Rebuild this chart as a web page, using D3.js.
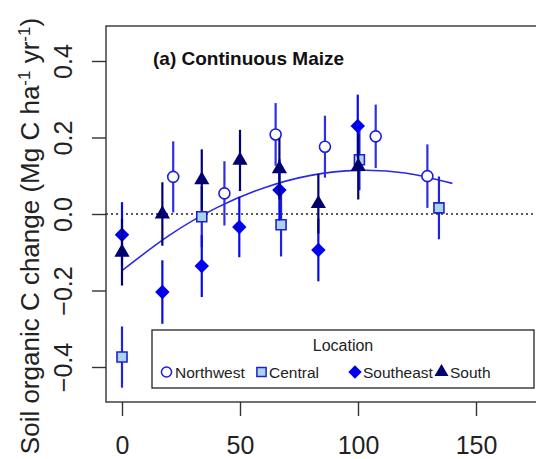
<!DOCTYPE html>
<html>
<head>
<meta charset="utf-8">
<script src="https://cdn.jsdelivr.net/npm/d3@7"></script>
<style>
  body { margin: 0; background: #fff; }
  text { font-family: "Liberation Sans", Arial, sans-serif; }
</style>
</head>
<body>
<div id="chart"></div>
<script>
const nwX = [21.7, 43.4, 65.1, 86, 107.5, 129.4];
const nwY = [0.097, 0.054, 0.208, 0.176, 0.203, 0.099];
const nwSE = [0.093, 0.084, 0.082, 0.081, 0.083, 0.083];

const centralX = [0, 33.8, 67.4, 100.6, 134.3];
const centralY = [-0.374, -0.007, -0.028, 0.142, 0.016];
const centralSE = [0.080, 0.080, 0.083, 0.080, 0.082];

const southeastX = [0, 17.1, 33.8, 49.7, 66.7, 83.2, 99.9];
const southeastY = [-0.054, -0.204, -0.136, -0.034, 0.063, -0.094, 0.230];
const southeastSE = [0.085, 0.083, 0.081, 0.079, 0.080, 0.082, 0.082];

const southX = [0, 17.1, 33.8, 50, 66.7, 83.2, 100.1];
const southY = [-0.100, 0.000, 0.089, 0.140, 0.118, 0.027, 0.124];
const southSE = [0.087, 0.083, 0.080, 0.080, 0.080, 0.078, 0.086];

// fitted curve, read at a few x positions
const fitX = [0, 20, 40, 60, 80, 100, 120, 140];
const fitY = [-0.148, -0.056, 0.016, 0.068, 0.101, 0.114, 0.107, 0.080];

const xTicks = [0, 50, 100, 150];
const yTicks = [-0.4, -0.2, 0.0, 0.2, 0.4];
const legendNames = ["Northwest", "Central", "Southeast", "South"];

const W = 536, H = 459;
const box = { left: 106, top: 26, bottom: 402, right: 540 };

const svg = d3.select("#chart").append("svg")
  .attr("width", W).attr("height", H);

const x = d3.scaleLinear().domain([0, 150]).range([122, 476]);
const y = d3.scaleLinear().domain([-0.4, 0.4]).range([367, 61]);

// zero reference line
svg.append("line")
  .attr("x1", box.left).attr("x2", box.right)
  .attr("y1", y(0)).attr("y2", y(0))
  .attr("stroke", "#222").attr("stroke-width", 1.3)
  .attr("stroke-dasharray", "2,3");

// fitted curve
svg.append("path")
  .datum(fitX.map((d, i) => [d, fitY[i]]))
  .attr("fill", "none")
  .attr("stroke", "#2a2ae6")
  .attr("stroke-width", 1.6)
  .attr("d", d3.line().x(d => x(d[0])).y(d => y(d[1])).curve(d3.curveNatural));

const series = [
  { xs: nwX, ys: nwY, se: nwSE, bar: "#2f2fe0", sym: d3.symbolCircle, size: 95, rot: 0, fill: "#fff", stroke: "#1c1ce0" },
  { xs: centralX, ys: centralY, se: centralSE, bar: "#2222dd", sym: d3.symbolSquare, size: 100, rot: 0, fill: "#a9d5e8", stroke: "#2020d0" },
  { xs: southeastX, ys: southeastY, se: southeastSE, bar: "#0a0ae8", sym: d3.symbolSquare, size: 105, rot: 45, fill: "#0000ee", stroke: "none" },
  { xs: southX, ys: southY, se: southSE, bar: "#00007a", sym: d3.symbolTriangle, size: 100, rot: 0, fill: "#00006e", stroke: "none" }
];

series.forEach(s => {
  const g = svg.append("g");
  const pts = s.xs.map((d, i) => ({ x: d, y: s.ys[i], se: s.se[i] }));
  g.selectAll("line")
    .data(pts)
    .enter().append("line")
    .attr("x1", d => x(d.x)).attr("x2", d => x(d.x))
    .attr("y1", d => y(d.y + d.se)).attr("y2", d => y(d.y - d.se))
    .attr("stroke", s.bar).attr("stroke-width", 2.2);
  g.selectAll("path")
    .data(pts)
    .enter().append("path")
    .attr("transform", d => `translate(${x(d.x)},${y(d.y)}) rotate(${s.rot})`)
    .attr("d", d3.symbol(s.sym, s.size))
    .attr("fill", s.fill)
    .attr("stroke", s.stroke)
    .attr("stroke-width", 1.6);
});

// plot frame
svg.append("rect")
  .attr("x", box.left).attr("y", box.top)
  .attr("width", box.right - box.left).attr("height", box.bottom - box.top)
  .attr("fill", "none").attr("stroke", "#333").attr("stroke-width", 1.4);

// axes
const gx = svg.append("g")
  .attr("transform", `translate(0,${box.bottom})`)
  .call(d3.axisBottom(x).tickValues(xTicks).tickSize(14).tickPadding(20).tickFormat(d3.format("d")));
gx.select(".domain").remove();
gx.selectAll("line").attr("stroke", "#333").attr("stroke-width", 1.4);
gx.selectAll("text").attr("font-size", 25).attr("fill", "#222")
  .attr("font-family", "'Liberation Sans', Arial, sans-serif");

const gy = svg.append("g")
  .attr("transform", `translate(${box.left},0)`)
  .call(d3.axisLeft(y).tickValues(yTicks).tickSize(14).tickFormat(d3.format(".1f")));
gy.select(".domain").remove();
gy.selectAll("line").attr("stroke", "#333").attr("stroke-width", 1.4);
gy.selectAll("text").remove();
gy.selectAll(".tick").append("text")
  .attr("transform", "translate(-34,0) rotate(-90)")
  .attr("text-anchor", "middle")
  .attr("font-size", 25).attr("fill", "#222")
  .text(d => d3.format(".1f")(d));

// y axis title
const yt = svg.append("text")
  .attr("transform", "translate(39,236) rotate(-90)")
  .attr("text-anchor", "middle")
  .attr("font-size", 26).attr("fill", "#222");
yt.append("tspan").text("Soil organic C change (Mg C ha");
yt.append("tspan").attr("dy", -9).attr("font-size", 17).text("-1");
yt.append("tspan").attr("dy", 9).text(" yr");
yt.append("tspan").attr("dy", -9).attr("font-size", 17).text("-1");
yt.append("tspan").attr("dy", 9).text(")");

// panel title
svg.append("text")
  .attr("x", 153).attr("y", 65)
  .attr("font-size", 19).attr("font-weight", "bold").attr("fill", "#111")
  .text("(a) Continuous Maize");

// legend
const leg = svg.append("g");
leg.append("rect")
  .attr("x", 152).attr("y", 330).attr("width", 382).attr("height", 58)
  .attr("fill", "#fff").attr("stroke", "#222").attr("stroke-width", 1.3);
leg.append("text")
  .attr("x", 343).attr("y", 351).attr("text-anchor", "middle")
  .attr("font-size", 16).attr("fill", "#222").text("Location");

const legSymX = [166.5, 261.5, 355, 441.5];
const legTextX = [175, 269, 363, 450];
series.forEach((s, i) => {
  leg.append("path")
    .attr("transform", `translate(${legSymX[i]},372) rotate(${s.rot})`)
    .attr("d", d3.symbol(s.sym, s.size * 0.85))
    .attr("fill", s.fill).attr("stroke", s.stroke).attr("stroke-width", 1.5);
  leg.append("text")
    .attr("x", legTextX[i]).attr("y", 378)
    .attr("font-size", 15.5).attr("fill", "#222")
    .text(legendNames[i]);
});
</script>
</body>
</html>
